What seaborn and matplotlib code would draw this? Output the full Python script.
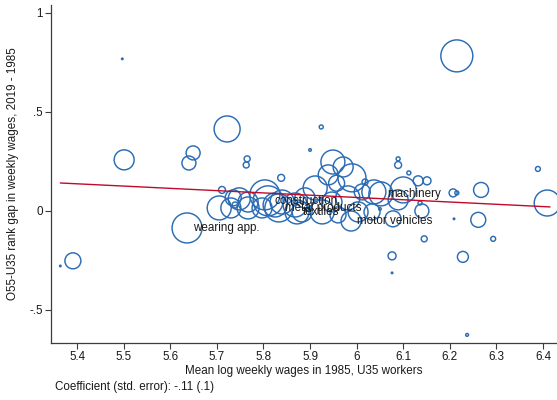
import numpy as np
import pandas as pd
import matplotlib
matplotlib.use("Agg")
import matplotlib.pyplot as plt
import seaborn as sns

# ---- data ----
wage85 = [5.497, 6.215, 5.722, 5.924, 5.501, 5.649, 5.640, 5.765, 5.763, 5.900,
          5.949, 5.971, 5.990, 6.089, 6.089, 6.112, 6.389, 6.132, 6.151, 5.838,
          5.711, 5.705, 5.748, 5.739, 5.636, 5.391, 5.364, 5.803, 5.767, 5.825,
          5.797, 5.840, 5.868, 5.767, 5.939, 5.911, 5.889, 5.947, 5.981, 6.012,
          6.003, 6.033, 6.037, 6.018, 5.883, 5.926, 5.960, 6.100, 6.140, 6.136,
          6.078, 6.050, 6.207, 6.215, 6.267, 6.409, 6.261, 6.209, 6.145, 6.293,
          6.076, 6.228, 6.076, 6.237, 6.089, 5.810, 5.833, 5.872, 6.052, 5.988,
          5.735, 5.730, 5.957]
rank_gap = [0.768, 0.783, 0.414, 0.424, 0.258, 0.293, 0.242, 0.263, 0.232, 0.308,
            0.247, 0.222, 0.167, 0.263, 0.232, 0.192, 0.212, 0.152, 0.152, 0.167,
            0.106, 0.015, 0.061, 0.030, -0.086, -0.252, -0.278, 0.081, 0.045, 0.030,
            0.015, 0.045, 0.030, 0.015, 0.182, 0.116, 0.066, 0.045, 0.066, 0.096,
            -0.005, -0.005, 0.096, 0.146, -0.005, -0.005, -0.020, 0.106, 0.000, 0.040,
            -0.040, 0.010, 0.091, 0.091, 0.106, 0.040, -0.045, -0.040, -0.141, -0.141,
            -0.227, -0.232, -0.313, -0.626, 0.056, 0.051, 0.015, -0.005, 0.086, -0.051,
            0.066, 0.015, 0.140]
employment = [0.6, 256, 169, 4, 100, 49, 49, 9, 9, 1.7,
              144, 100, 196, 4, 12, 4, 6, 25, 16, 12,
              12, 144, 121, 9, 225, 64, 0.6, 225, 100, 144,
              100, 144, 144, 121, 100, 144, 100, 100, 144, 64,
              100, 64, 144, 9, 100, 144, 64, 169, 49, 4,
              64, 1.7, 16, 4, 56, 169, 56, 0.6, 9, 6,
              16, 30, 0.6, 2, 100, 225, 196, 144, 144, 100,
              64, 100, 64]
industry = [""] * len(wage85)
industry[24] = "wearing app."
industry[65] = "construction"
industry[66] = "metal products"
industry[67] = "textiles"
industry[68] = "machinery"
industry[69] = "motor vehicles"

fit_intercept = 0.758
fit_slope = -0.115

x_ticks = [5.4, 5.5, 5.6, 5.7, 5.8, 5.9, 6.0, 6.1, 6.2, 6.3, 6.4]
x_ticklabels = ["5.4", "5.5", "5.6", "5.7", "5.8", "5.9", "6", "6.1", "6.2", "6.3", "6.4"]
y_ticks = [-0.5, 0.0, 0.5, 1.0]
y_ticklabels = ["-.5", "0", ".5", "1"]

df = pd.DataFrame({"wage85": wage85, "gap": rank_gap, "emp": employment, "ind": industry})

# ---- style ----
sns.set_theme(style="white")
plt.rcParams["font.family"] = ["Liberation Sans", "DejaVu Sans"]

BLUE = "#2b6cb5"
RED = "#c00a2a"
AX = "#3c3c3c"
FS = 8.4

fig = plt.figure(figsize=(5.57, 4.0), dpi=100)
ax = fig.add_axes([51 / 557, (400 - 343) / 400, 1 - 51 / 557, (343 - 5) / 400])

wmin, wmax = min(employment), max(employment)
k = 2.07  # px^2 -> pt^2
sns.scatterplot(data=df, x="wage85", y="gap", size="emp",
                sizes=(k * wmin, k * wmax), size_norm=(wmin, wmax),
                legend=False, ax=ax, linewidth=1.0, zorder=2)
coll = ax.collections[0]
coll.set_facecolor("none")
coll.set_edgecolor(BLUE)
coll.set_linewidth(1.05)

xs = np.array([min(wage85), 6.415])
sns.lineplot(x=xs, y=fit_intercept + fit_slope * xs, color=RED, lw=1.0, ax=ax, zorder=3)

for _, r in df.iterrows():
    if r["ind"]:
        ax.annotate(r["ind"], (r["wage85"], r["gap"]), xytext=(4.3, 0),
                    textcoords="offset points", ha="left", va="center",
                    fontsize=FS, color="#1a1a1a", zorder=4)

ax.set_xlim(5.344, 6.43)
ax.set_ylim(-0.667, 1.04)
ax.set_xticks(x_ticks)
ax.set_xticklabels(x_ticklabels)
ax.set_yticks(y_ticks)
ax.set_yticklabels(y_ticklabels)
ax.tick_params(axis="both", direction="out", length=4, width=0.8, color=AX,
               labelsize=FS, labelcolor="#1a1a1a", pad=2, bottom=True, left=True)
for s in ["top", "right"]:
    ax.spines[s].set_visible(False)
for s in ["left", "bottom"]:
    ax.spines[s].set_color(AX)
    ax.spines[s].set_linewidth(0.9)

ax.set_xlabel("Mean log weekly wages in 1985, U35 workers", fontsize=FS, color="#1a1a1a", labelpad=1)
ax.set_ylabel("O55-U35 rank gap in weekly wages, 2019 - 1985", fontsize=FS, color="#1a1a1a", labelpad=7)
fig.text(55 / 557, 1 - 387 / 400, "Coefficient (std. error): -.11 (.1)", fontsize=FS,
         color="#1a1a1a", ha="left", va="center")

fig.savefig("out.png", dpi=100)
